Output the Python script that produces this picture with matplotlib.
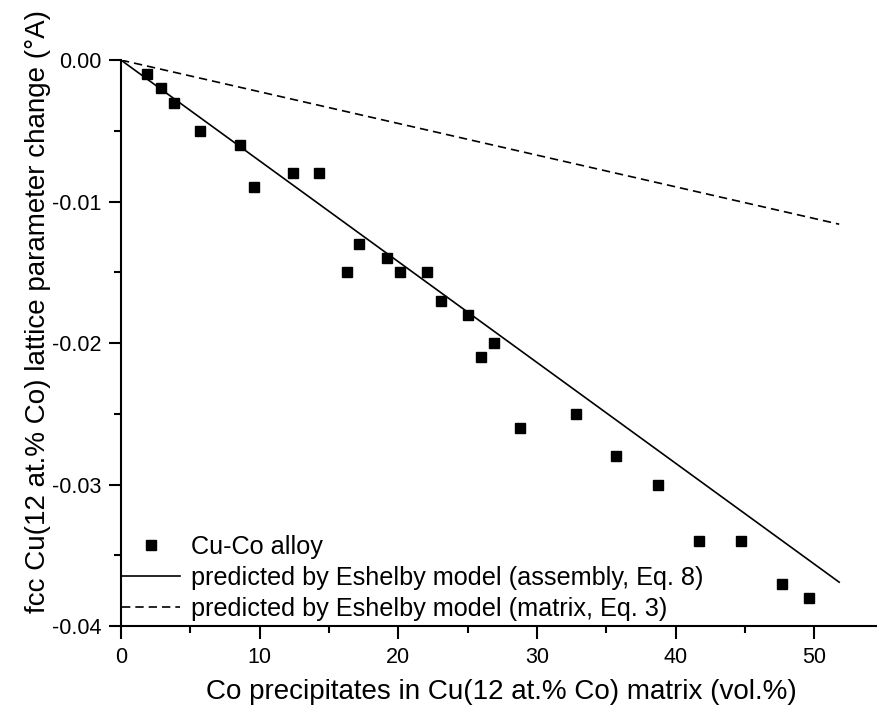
import matplotlib.pyplot as plt
from matplotlib.ticker import MultipleLocator

plt.rcParams['font.family'] = ['Liberation Sans', 'DejaVu Sans']

# Measured Cu-Co alloy data (vol.% Co precipitates, lattice parameter change)
co_vol = [1.9, 2.9, 3.8, 5.7, 8.6, 9.6, 12.4, 14.3, 16.3, 17.2, 19.2, 20.1,
          22.1, 23.1, 25.0, 26.0, 26.9, 28.8, 32.8, 35.7, 38.7, 41.7, 44.7,
          47.7, 49.6]
da = [-0.001, -0.002, -0.003, -0.005, -0.006, -0.009, -0.008, -0.008,
      -0.015, -0.013, -0.014, -0.015, -0.015, -0.017, -0.018, -0.021,
      -0.020, -0.026, -0.025, -0.028, -0.030, -0.034, -0.034, -0.037,
      -0.038]

# Eshelby model predictions (straight lines)
model_x = [0, 51.8]
assembly_y = [0, -0.0369]
matrix_y = [0, -0.0116]

y_ticks = [0, -0.01, -0.02, -0.03, -0.04]
y_ticklabels = ['0.00', '-0.01', '-0.02', '-0.03', '-0.04']

fig = plt.figure(figsize=(8.78, 7.11), dpi=100)
ax = fig.add_axes([0.1378, 0.1195, 0.8622, 0.796])

ax.plot(co_vol, da, 's', color='black', markersize=7.5, label='Cu-Co alloy')
ax.plot(model_x, assembly_y, '-', color='black', linewidth=1.2,
        label='predicted by Eshelby model (assembly, Eq. 8)')
ax.plot(model_x, matrix_y, color='black', linewidth=1.2, dashes=(5, 3),
        label='predicted by Eshelby model (matrix, Eq. 3)')

ax.set_xlim(0, 54.6)
ax.set_ylim(-0.04, 0.0)
ax.xaxis.set_major_locator(MultipleLocator(10))
ax.xaxis.set_minor_locator(MultipleLocator(5))
ax.set_yticks(y_ticks)
ax.set_yticklabels(y_ticklabels)
ax.yaxis.set_minor_locator(MultipleLocator(0.005))

for s in ['top', 'right']:
    ax.spines[s].set_visible(False)
for s in ['left', 'bottom']:
    ax.spines[s].set_linewidth(1.5)

ax.tick_params(which='major', direction='out', length=9, width=1.5,
               labelsize=15.5, colors='black')
ax.tick_params(which='minor', direction='out', length=5, width=1.5)
ax.tick_params(axis='x', pad=6)
ax.tick_params(axis='y', pad=5)

ax.set_xlabel('Co precipitates in Cu(12 at.% Co) matrix (vol.%)', fontsize=20)
ax.set_ylabel('fcc Cu(12 at.% Co) lattice parameter change (°A)', fontsize=20)
ax.xaxis.set_label_coords(0.502, -0.093)
ax.yaxis.set_label_coords(-0.093, 0.555)

ax.legend(loc='lower left', bbox_to_anchor=(-0.005, 0.0), frameon=False,
          fontsize=18.2, handlelength=2.3, handletextpad=0.4,
          labelspacing=0.28, borderpad=0.2, borderaxespad=0.0)

fig.savefig('out.png', dpi=100)
